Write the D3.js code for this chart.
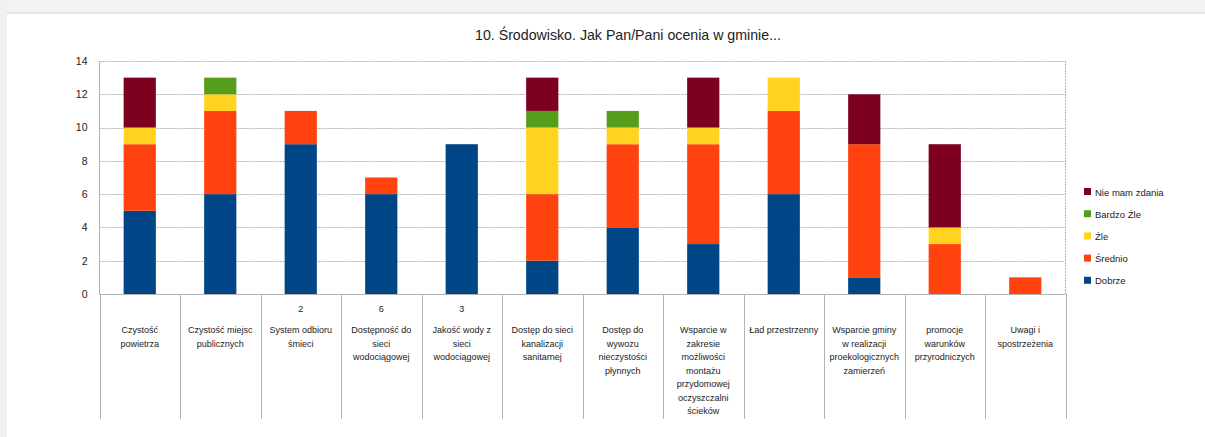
<!DOCTYPE html>
<html><head><meta charset="utf-8">
<script src="https://cdn.jsdelivr.net/npm/d3@7"></script>
<style>body{margin:0;background:#fff;}svg{display:block;}</style>
</head><body>
<script>
const title = "10. Środowisko. Jak Pan/Pani ocenia w gminie...";
const categories = [
  ["Czystość","powietrza"],
  ["Czystość miejsc","publicznych"],
  ["System odbioru","śmieci"],
  ["Dostępność do","sieci","wodociągowej"],
  ["Jakość wody z","sieci","wodociągowej"],
  ["Dostęp do sieci","kanalizacji","sanitarnej"],
  ["Dostęp do","wywozu","nieczystości","płynnych"],
  ["Wsparcie w","zakresie","możliwości","montażu","przydomowej","oczyszczalni","ścieków"],
  ["Ład przestrzenny"],
  ["Wsparcie gminy","w realizacji","proekologicznych","zamierzeń"],
  ["promocje","warunków","przyrodniczych"],
  ["Uwagi i","spostrzeżenia"]
];
const topLabels = ["","","2","6","3","","","","","","",""];
const seriesNames = ["Dobrze","Średnio","Źle","Bardzo Źle","Nie mam zdania"];
const seriesColors = ["#004586","#ff420e","#ffd320","#579d1c","#7e0021"];
const dobrze    = [5,6,9,6,9,2,4,3,6,1,0,0];
const srednio   = [4,5,2,1,0,4,5,6,5,8,3,1];
const zle       = [1,1,0,0,0,4,1,1,2,0,1,0];
const bardzoZle = [0,1,0,0,0,1,1,0,0,0,0,0];
const nieMam    = [3,0,0,0,0,2,0,3,0,3,5,0];
const yTicks = [0,2,4,6,8,10,12,14];

(function(){
const W=1205,H=437;
const svg=d3.select("body").append("svg").attr("width",W).attr("height",H);
const font="'Liberation Sans', Arial, sans-serif";

// window chrome
svg.append("rect").attr("x",0).attr("y",0).attr("width",W).attr("height",H).attr("fill","#fff");
svg.append("rect").attr("x",0).attr("y",0).attr("width",W).attr("height",13).attr("fill","#f3f3f3");
svg.append("line").attr("x1",0).attr("x2",W).attr("y1",13).attr("y2",13).attr("stroke","#e6e6e6").attr("stroke-width",2);
svg.append("rect").attr("x",0).attr("y",0).attr("width",7).attr("height",H).attr("fill","#f0f0f0");

const pLeft=99.5,pRight=1065.5,pTop=61,pBottom=294;
const x=d3.scaleBand().domain(d3.range(categories.length)).range([pLeft,pRight]).paddingInner(0).paddingOuter(0);
const y=d3.scaleLinear().domain([0,14]).range([pBottom,pTop]);

const data=categories.map((c,i)=>({i,"Dobrze":dobrze[i],"Średnio":srednio[i],"Źle":zle[i],"Bardzo Źle":bardzoZle[i],"Nie mam zdania":nieMam[i]}));
const stack=d3.stack().keys(seriesNames)(data);

// title
svg.append("text").attr("x",628).attr("y",40).attr("text-anchor","middle")
  .attr("font-family",font).attr("font-size",14.2).attr("fill","#222").text(title);

// grid
svg.append("g").selectAll("line").data(yTicks).join("line")
  .attr("x1",pLeft).attr("x2",pRight).attr("y1",d=>Math.round(y(d))+0.5).attr("y2",d=>Math.round(y(d))+0.5)
  .attr("stroke","#b3b3b3").attr("stroke-width",1).attr("stroke-dasharray","2,1");
svg.append("line").attr("x1",pLeft).attr("x2",pLeft).attr("y1",pTop).attr("y2",pBottom).attr("stroke","#b3b3b3");
svg.append("line").attr("x1",pRight).attr("x2",pRight).attr("y1",pTop).attr("y2",pBottom).attr("stroke","#b3b3b3").attr("stroke-dasharray","2,1");

// y axis labels
const yAxis=d3.axisLeft(y).tickValues(yTicks).tickSize(0).tickPadding(12);
const yg=svg.append("g").attr("transform",`translate(${pLeft},0)`).call(yAxis);
yg.select(".domain").remove();
yg.selectAll("text").attr("font-family",font).attr("font-size",10.5).attr("fill","#222");

// bars
const bw=x.bandwidth()*0.4;
svg.append("g").selectAll("g").data(stack).join("g")
  .attr("fill",(d,k)=>seriesColors[k])
  .selectAll("rect").data(d=>d.filter(s=>s[1]-s[0]>0)).join("rect")
  .attr("x",d=>x(d.data.i)+(x.bandwidth()-bw)/2)
  .attr("y",d=>y(d[1]))
  .attr("width",bw)
  .attr("height",d=>y(d[0])-y(d[1]));

// category table lines
const xTickBottom=419;
const bounds=d3.range(categories.length+1).map(i=>i<categories.length?x(i):pRight);
svg.append("g").selectAll("line").data(bounds).join("line")
  .attr("x1",d=>Math.round(d)+0.5).attr("x2",d=>Math.round(d)+0.5).attr("y1",pBottom).attr("y2",xTickBottom)
  .attr("stroke","#b3b3b3");
svg.append("line").attr("x1",pLeft).attr("x2",pRight).attr("y1",pBottom+0.5).attr("y2",pBottom+0.5).attr("stroke","#b3b3b3");

// category labels
const cg=svg.append("g").attr("font-family",font).attr("font-size",9).attr("fill","#222").attr("text-anchor","middle");
categories.forEach((lines,i)=>{
  const cx=x(i)+x.bandwidth()/2;
  if(topLabels[i]) cg.append("text").attr("x",cx).attr("y",312).text(topLabels[i]);
  lines.forEach((l,j)=>{
    cg.append("text").attr("x",cx).attr("y",333+j*13.5).text(l);
  });
});

// legend
const lg=svg.append("g").attr("font-family",font).attr("font-size",9.5).attr("fill","#222");
const legendOrder=[4,3,2,1,0];
legendOrder.forEach((k,j)=>{
  const ly=192+j*22.2;
  lg.append("rect").attr("x",1084).attr("y",ly-4).attr("width",7).attr("height",7).attr("fill",seriesColors[k]);
  lg.append("text").attr("x",1095).attr("y",ly+3.5).text(seriesNames[k]);
});
})();
</script>
</body></html>
